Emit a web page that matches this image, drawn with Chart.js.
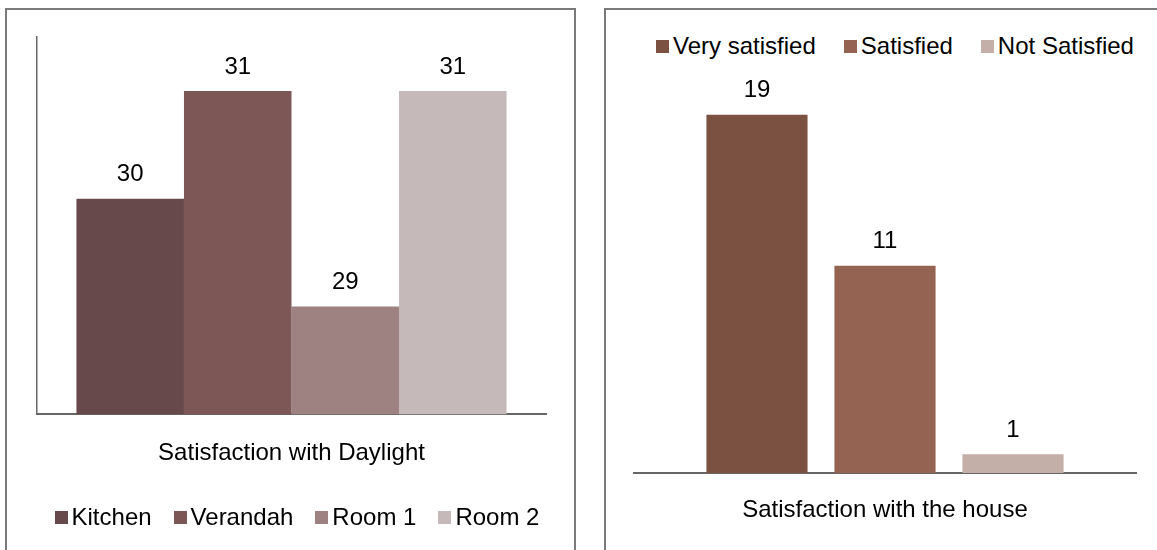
<!DOCTYPE html>
<html>
<head>
<meta charset="utf-8">
<title>Satisfaction survey</title>
<script src="https://cdn.jsdelivr.net/npm/chart.js@4/dist/chart.umd.min.js"></script>
<style>
    body {
        margin: 0;
        width: 1157px;
        height: 550px;
        overflow: hidden;
        background: #fff;
        font-family: "Liberation Sans", Arial, sans-serif;
    }
    .panel {
        position: absolute;
        top: 8px;
        width: 571px;
        height: 600px;
        border: 2px solid #7a7a7a;
        box-sizing: border-box;
    }
    canvas {
        position: absolute;
    }
    .legend {
        position: absolute;
        display: flex;
        justify-content: center;
        align-items: center;
        font-size: 24px;
        line-height: 28px;
        color: #000;
        white-space: nowrap;
    }
    .legend-item {
        display: flex;
        align-items: center;
    }
    .legend-box {
        display: inline-block;
        width: 13px;
        height: 13px;
        margin-right: 4px;
    }
</style>
</head>
<body>
<div class="panel" style="left:5px"></div>
<div class="panel" style="left:604px"></div>

<canvas id="daylightChart" width="566" height="496" style="left:8px; top:10px"></canvas>
<div class="legend" id="daylightLegend" style="left:10px; width:574px; top:503px; gap:22px"></div>

<div class="legend" id="houseLegend" style="left:610px; width:570px; top:32px; gap:28px"></div>
<canvas id="houseChart" width="551" height="493" style="left:606px; top:70px"></canvas>

<script>
// Satisfaction with daylight, per room
const daylightCategories = ['Satisfaction with Daylight'];
const daylightRooms = ['Kitchen', 'Verandah', 'Room 1', 'Room 2'];
const daylightValues = [30, 31, 29, 31];
const daylightColors = ['#67494b', '#7d5656', '#9d8281', '#c5b9b9'];
const daylightMin = 28;
const daylightMax = 31.5;

// Satisfaction with the house
const houseCategories = ['Satisfaction with the house'];
const houseLevels = ['Very satisfied', 'Satisfied', 'Not Satisfied'];
const houseValues = [19, 11, 1];
const houseColors = ['#7b5242', '#946351', '#c4aea8'];
const houseMin = 0;
const houseMax = 20;

const FONT = '"Liberation Sans", Arial, sans-serif';
const AXIS_COLOR = '#666666';

Chart.defaults.font.family = FONT;
Chart.defaults.font.size = 24;
Chart.defaults.color = '#000';

// writes each bar's value above it
const valueLabels = {
    id: 'valueLabels',
    afterDatasetsDraw(chart) {
        const ctx = chart.ctx;
        ctx.save();
        ctx.font = '24px ' + FONT;
        ctx.fillStyle = '#000';
        ctx.textAlign = 'center';
        ctx.textBaseline = 'middle';
        chart.data.datasets.forEach((ds, i) => {
            const meta = chart.getDatasetMeta(i);
            meta.data.forEach((bar, j) => {
                ctx.fillText(String(ds.data[j]), bar.x, bar.y - 24);
            });
        });
        ctx.restore();
    }
};

function buildLegend(id, names, colors) {
    const el = document.getElementById(id);
    names.forEach((name, i) => {
        const item = document.createElement('span');
        item.className = 'legend-item';
        const box = document.createElement('span');
        box.className = 'legend-box';
        box.style.background = colors[i];
        item.appendChild(box);
        item.appendChild(document.createTextNode(name));
        el.appendChild(item);
    });
}

function makeDatasets(names, values, colors, barPct) {
    return names.map((name, i) => ({
        label: name,
        data: [values[i]],
        backgroundColor: colors[i],
        borderWidth: 0,
        categoryPercentage: 1,
        barPercentage: barPct
    }));
}

const daylightSets = makeDatasets(daylightRooms, daylightValues, daylightColors, 1);
daylightSets.forEach(ds => { ds.categoryPercentage = 0.845; });

new Chart(document.getElementById('daylightChart'), {
    type: 'bar',
    data: {
        labels: daylightCategories,
        datasets: daylightSets
    },
    options: {
        responsive: false,
        animation: false,
        layout: { padding: { left: 29, right: 28, top: 27, bottom: 13 } },
        plugins: {
            legend: { display: false },
            tooltip: { enabled: false }
        },
        scales: {
            x: {
                grid: { display: false, drawTicks: false },
                border: { display: true, color: AXIS_COLOR, width: 2 },
                ticks: { padding: 25, color: '#000', font: { size: 24 } }
            },
            y: {
                min: daylightMin,
                max: daylightMax,
                grid: { display: false, drawTicks: false },
                border: { display: true, color: AXIS_COLOR, width: 1.5 },
                ticks: { display: false }
            }
        }
    },
    plugins: [valueLabels]
});

const houseSets = makeDatasets(houseLevels, houseValues, houseColors, 0.79);
houseSets.forEach(ds => { ds.categoryPercentage = 0.765; });

new Chart(document.getElementById('houseChart'), {
    type: 'bar',
    data: {
        labels: houseCategories,
        datasets: houseSets
    },
    options: {
        responsive: false,
        animation: false,
        layout: { padding: { left: 28, right: 21, top: 26, bottom: 16 } },
        plugins: {
            legend: { display: false },
            tooltip: { enabled: false }
        },
        scales: {
            x: {
                grid: { display: false, drawTicks: false },
                border: { display: true, color: AXIS_COLOR, width: 2 },
                ticks: { padding: 22.6, color: '#000', font: { size: 24 } }
            },
            y: {
                display: false,
                min: houseMin,
                max: houseMax
            }
        }
    },
    plugins: [valueLabels]
});

buildLegend('daylightLegend', daylightRooms, daylightColors);
buildLegend('houseLegend', houseLevels, houseColors);
</script>
</body>
</html>
